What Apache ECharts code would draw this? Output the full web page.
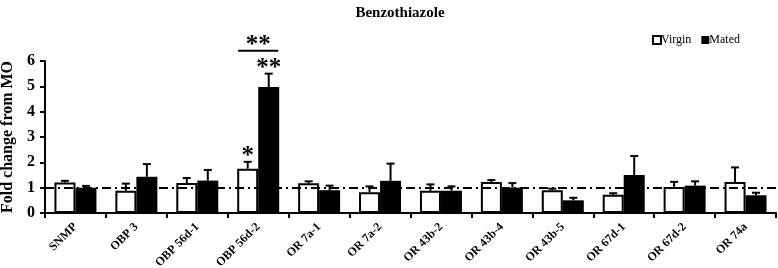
<!DOCTYPE html>
<html>
<head>
<meta charset="utf-8">
<script src="https://cdn.jsdelivr.net/npm/echarts@6/dist/echarts.min.js"></script>
<style>
  html, body { margin: 0; padding: 0; background: #fff; }
  #chart { width: 778px; height: 268px; }
</style>
</head>
<body>
<div id="chart"></div>
<script>
const categories = ['SNMP', 'OBP 3', 'OBP 56d-1', 'OBP 56d-2', 'OR 7a-1', 'OR 7a-2', 'OR 43b-2', 'OR 43b-4', 'OR 43b-5', 'OR 67d-1', 'OR 67d-2', 'OR 74a']
const virgin = [1.2, 0.88, 1.18, 1.75, 1.17, 0.82, 0.88, 1.22, 0.9, 0.72, 1.03, 1.22]
const virginErr = [0.07, 0.28, 0.2, 0.27, 0.08, 0.23, 0.25, 0.08, 0.06, 0.06, 0.2, 0.58]
const mated = [1.0, 1.43, 1.28, 4.97, 0.9, 1.27, 0.88, 1.0, 0.5, 1.5, 1.08, 0.7]
const matedErr = [0.07, 0.5, 0.42, 0.53, 0.18, 0.68, 0.17, 0.18, 0.1, 0.75, 0.17, 0.1]
const virginStars = ['', '', '', '*', '', '', '', '', '', '', '', '']
const matedStars = ['', '', '', '**', '', '', '', '', '', '', '', '']
// bracket between virgin and mated of one gene: [category, y value, text]
const brackets = [[3, 6.4, '**']]
const yTicks = [0, 1, 2, 3, 4, 5, 6]

const font = 'Liberation Serif'
const barW = 21

function errorSeries(name, means, errs, stars, offset) {
  return {
    name: name + ' err',
    type: 'custom',
    clip: false,
    z: 5,
    data: means.map((m, i) => [i, m, m + errs[i], stars[i]]),
    renderItem: (params, api) => {
      const base = api.coord([api.value(0), api.value(1)])
      const top = api.coord([api.value(0), api.value(2)])
      const x = base[0] + offset
      const children = [
        { type: 'line', shape: { x1: x, y1: base[1], x2: x, y2: top[1] }, style: { stroke: '#000', lineWidth: 2 } },
        { type: 'line', shape: { x1: x - 4, y1: top[1], x2: x + 4, y2: top[1] }, style: { stroke: '#000', lineWidth: 2 } },
      ]
      const s = stars[params.dataIndex]
      if (s) {
        children.push({
          type: 'text',
          style: { x: x, y: top[1] + 7, text: s, fill: '#000', font: 'bold 25px ' + font, align: 'center', verticalAlign: 'bottom' },
        })
      }
      return { type: 'group', children }
    },
  }
}

const chart = echarts.init(document.getElementById('chart'))
chart.setOption({
  animation: false,
  textStyle: { fontFamily: font, color: '#000' },
  title: {
    text: 'Benzothiazole',
    left: 395,
    textAlign: 'center',
    top: 1,
    textStyle: { fontFamily: font, fontSize: 15, fontWeight: 'bold', color: '#000' },
  },
  legend: {
    right: 33,
    top: 29,
    itemWidth: 8,
    itemHeight: 8,
    itemGap: 10,
    textStyle: { fontFamily: font, fontSize: 12, color: '#000', padding: [0, 0, 0, -5] },
    data: [
      { name: 'Virgin', icon: 'rect', itemStyle: { color: '#fff', borderColor: '#000', borderWidth: 2 } },
      { name: 'Mated', icon: 'rect', itemStyle: { color: '#000' } },
    ],
  },
  grid: { left: 45, right: 2, top: 61, bottom: 55, outerBoundsMode: 'none', containLabel: false },
  xAxis: {
    type: 'category',
    data: categories,
    axisLine: { lineStyle: { color: '#000', width: 2 } },
    axisTick: { show: true, length: 5, lineStyle: { color: '#000', width: 2 } },
    axisLabel: { rotate: 45, margin: 12, fontSize: 12, fontWeight: 'bold', fontFamily: font, color: '#000', interval: 0 },
  },
  yAxis: {
    type: 'value',
    min: yTicks[0],
    max: yTicks[yTicks.length - 1],
    interval: 1,
    name: 'Fold change from MO',
    nameLocation: 'middle',
    nameGap: 29,
    nameTextStyle: { fontFamily: font, fontSize: 16, fontWeight: 'bold', color: '#000' },
    axisLine: { show: true, lineStyle: { color: '#000', width: 2 } },
    axisTick: { show: true, length: 5, lineStyle: { color: '#000', width: 2 } },
    axisLabel: { margin: 10, fontSize: 16, fontWeight: 'bold', fontFamily: font, color: '#000' },
    splitLine: { show: false },
  },
  series: [
    {
      name: 'Virgin',
      type: 'bar',
      data: virgin,
      barWidth: barW,
      barGap: '0%',
      itemStyle: { color: '#fff', borderColor: '#000', borderWidth: 2 },
      markLine: {
        silent: true,
        symbol: 'none',
        label: { show: false },
        lineStyle: { color: '#000', width: 2, type: [9, 4, 2, 4] },
        data: [{ yAxis: 1 }],
      },
    },
    {
      name: 'Mated',
      type: 'bar',
      data: mated,
      barWidth: barW,
      itemStyle: { color: '#000' },
    },
    errorSeries('Virgin', virgin, virginErr, virginStars, -barW / 2),
    errorSeries('Mated', mated, matedErr, matedStars, barW / 2),
    {
      name: 'bracket',
      type: 'custom',
      clip: false,
      data: brackets,
      renderItem: (params, api) => {
        const p = api.coord([api.value(0), api.value(1)])
        const half = barW - 1
        return {
          type: 'group',
          children: [
            { type: 'line', shape: { x1: p[0] - half, y1: p[1], x2: p[0] + half, y2: p[1] }, style: { stroke: '#000', lineWidth: 2 } },
            { type: 'text', style: { x: p[0], y: p[1] + 7, text: brackets[params.dataIndex][2], fill: '#000', font: 'bold 25px ' + font, align: 'center', verticalAlign: 'bottom' } },
          ],
        }
      },
    },
  ],
})
</script>
</body>
</html>
